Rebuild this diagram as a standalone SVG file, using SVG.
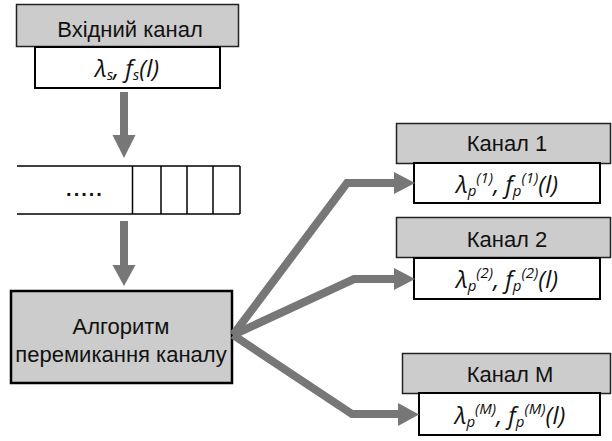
<svg xmlns="http://www.w3.org/2000/svg" width="612" height="441" viewBox="0 0 612 441">
<style>
.hdr{fill:#cccccc;stroke:#222;stroke-width:1.5}
.val{fill:#fff;stroke:#000;stroke-width:2}
.lbl{font-family:"Liberation Sans",Arial,sans-serif;font-size:22px;fill:#111;text-anchor:middle}
.math{font-family:"Open Sans","DejaVu Sans",sans-serif;font-style:italic;font-size:24px;fill:#111;text-anchor:middle}
.sm{font-size:15px}
.shaft{fill:none;stroke:#777;stroke-width:8;stroke-linejoin:miter}
.head{fill:#777}
.q{stroke:#000;stroke-width:1.5;fill:none}
</style>
<rect width="612" height="441" fill="#fff"/>
<g id="input-channel">
<rect class="hdr" x="16.5" y="4.5" width="222" height="42"/>
<text class="lbl" x="130" y="37">Вхідний канал</text>
<rect class="val" x="35" y="47" width="185" height="41"/>
<text class="math" x="127" y="77">λ<tspan class="sm" dy="3">s</tspan><tspan dy="-3">, f</tspan><tspan class="sm" dy="3">s</tspan><tspan dy="-3">(l)</tspan></text>
</g>
<g id="queue">
<line class="q" x1="17" y1="166" x2="240" y2="166"/>
<line class="q" x1="17" y1="214" x2="240" y2="214"/>
<line class="q" x1="132.5" y1="166" x2="132.5" y2="214"/>
<line class="q" x1="161" y1="166" x2="161" y2="214"/>
<line class="q" x1="187" y1="166" x2="187" y2="214"/>
<line class="q" x1="213" y1="166" x2="213" y2="214"/>
<line class="q" x1="240" y1="166" x2="240" y2="214"/>
<text class="lbl" x="85" y="196" style="letter-spacing:2px;font-size:20px;font-weight:bold">.....</text>
</g>
<g id="algorithm">
<rect x="11" y="291" width="221" height="92" fill="#cccccc" stroke="#000" stroke-width="2.5"/>
<text class="lbl" x="121" y="334">Алгоритм</text>
<text class="lbl" x="121" y="362">перемикання каналу</text>
</g>
<g id="channel-1">
<rect class="hdr" x="396.5" y="123.5" width="214" height="40"/>
<text class="lbl" x="507" y="151">Канал 1</text>
<rect class="val" x="414" y="163" width="186" height="40"/>
<text class="math" x="507" y="193">λ<tspan class="sm" dy="3">p</tspan><tspan class="sm" dy="-13">(1)</tspan><tspan dy="10">, f</tspan><tspan class="sm" dy="3">p</tspan><tspan class="sm" dy="-13">(1)</tspan><tspan dy="10">(l)</tspan></text>
</g>
<g id="channel-2">
<rect class="hdr" x="396.5" y="217.5" width="214" height="40"/>
<text class="lbl" x="507" y="247">Канал 2</text>
<rect class="val" x="414" y="258" width="186" height="41"/>
<text class="math" x="507" y="288">λ<tspan class="sm" dy="3">p</tspan><tspan class="sm" dy="-13">(2)</tspan><tspan dy="10">, f</tspan><tspan class="sm" dy="3">p</tspan><tspan class="sm" dy="-13">(2)</tspan><tspan dy="10">(l)</tspan></text>
</g>
<g id="channel-M">
<rect class="hdr" x="402.5" y="353.5" width="208" height="40"/>
<text class="lbl" x="510" y="382">Канал М</text>
<rect class="val" x="419" y="393" width="181" height="42"/>
<text class="math" x="510" y="424">λ<tspan class="sm" dy="3">p</tspan><tspan class="sm" dy="-13">(M)</tspan><tspan dy="10">, f</tspan><tspan class="sm" dy="3">p</tspan><tspan class="sm" dy="-13">(M)</tspan><tspan dy="10">(l)</tspan></text>
</g>
<g id="connectors">
<line class="shaft" x1="124" y1="92" x2="124" y2="136"/>
<polygon class="head" points="112.5,135 135.5,135 124,158"/>
<line class="shaft" x1="124" y1="221" x2="124" y2="266"/>
<polygon class="head" points="112.5,265 135.5,265 124,286"/>
<polyline class="shaft" points="233,335 347,183 396,183"/>
<polygon class="head" points="394,172 415,183 394,194"/>
<polyline class="shaft" points="233,335 354,279 396,279"/>
<polygon class="head" points="394,268 415,279 394,290"/>
<polyline class="shaft" points="233,335 352,414 400,414"/>
<polygon class="head" points="398,403 419,414.5 398,426"/>
</g>
</svg>
